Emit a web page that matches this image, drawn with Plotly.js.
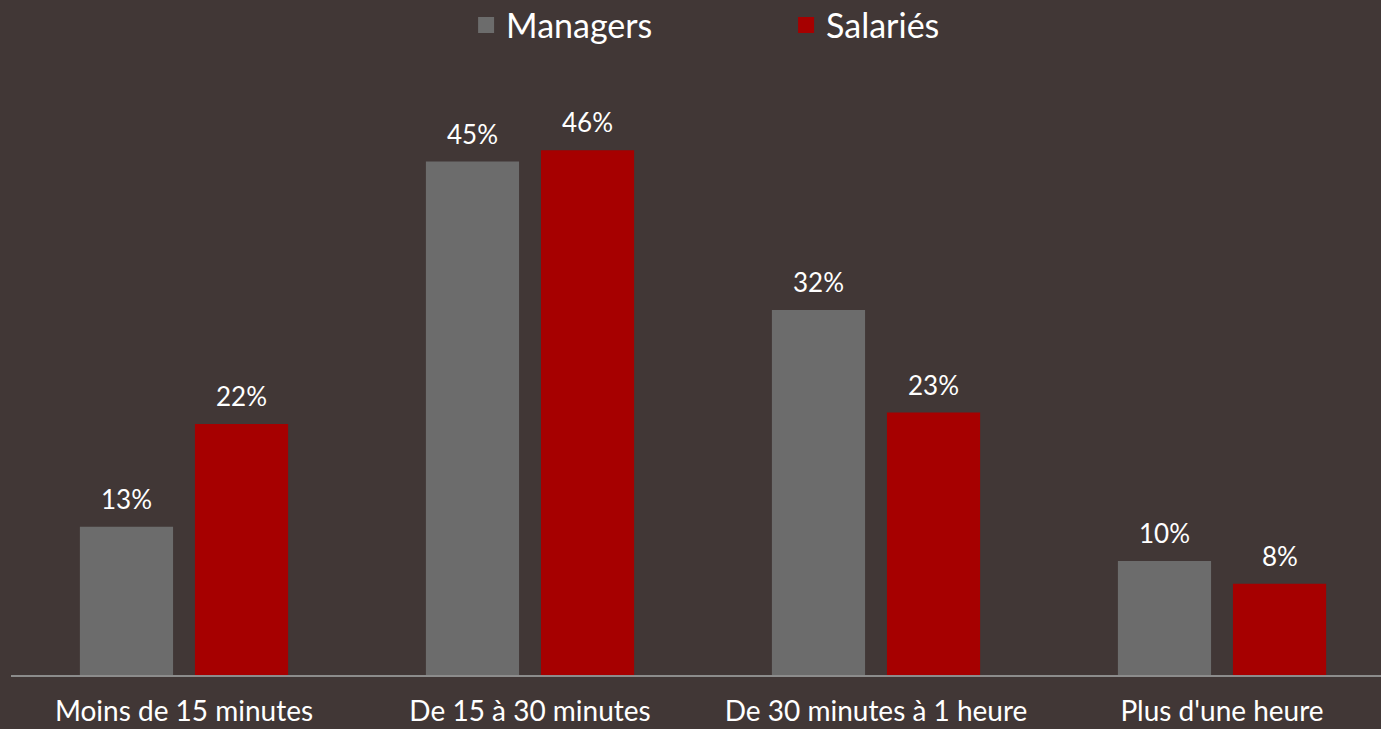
<!DOCTYPE html>
<html>
<head>
<meta charset="utf-8">
<script src="https://cdn.plot.ly/plotly-3.0.1.min.js"></script>
<style>
  html, body { margin: 0; padding: 0; background: #413736; }
  #chart { width: 1381px; height: 729px; }
</style>
</head>
<body>
<div id="chart"></div>
<script>
// Durée par catégorie (en %)
const categories = ['Moins de 15 minutes', 'De 15 à 30 minutes', 'De 30 minutes à 1 heure', "Plus d'une heure"];
const seriesNames = ['Managers', 'Salariés'];
const managers = [13, 45, 32, 10];
const salaries = [22, 46, 23, 8];

const colors = ['#6c6c6c', '#a60000'];
const xIdx = categories.map((_, i) => i);

// labels above bars, shifted left/right onto each bar of the group
const labels = [];
xIdx.forEach(i => {
    labels.push({ x: i, y: managers[i], text: managers[i] + '%', xshift: -57.5 });
    labels.push({ x: i, y: salaries[i], text: salaries[i] + '%', xshift: 57.5 });
});

const traces = [
    { type: 'bar', name: seriesNames[0], x: xIdx, y: managers, marker: { color: colors[0] }, showlegend: false },
    { type: 'bar', name: seriesNames[1], x: xIdx, y: salaries, marker: { color: colors[1] }, showlegend: false }
];
// bigger legend squares than the bar defaults
seriesNames.forEach((n, k) => {
    traces.push({
        type: 'scatter', mode: 'markers', name: n, x: [null], y: [null],
        marker: { symbol: 'square', size: 20, color: colors[k] }
    });
});

Plotly.newPlot('chart', traces, {
    width: 1381,
    height: 729,
    paper_bgcolor: '#413736',
    plot_bgcolor: '#413736',
    margin: { l: 11, r: 0, t: 60, b: 54 },
    barmode: 'group',
    bargap: 0.335,
    bargroupgap: 0.19,
    font: { family: 'Lato, "Open Sans", sans-serif', color: '#ffffff', size: 24 },
    showlegend: true,
    legend: {
        orientation: 'h', x: 0.3375, xanchor: 'left', xref: 'container',
        y: 0.965, yanchor: 'middle', yref: 'container',
        font: { size: 34, color: '#ffffff' }, entrywidth: 275, itemwidth: 30,
        bgcolor: 'rgba(0,0,0,0)'
    },
    xaxis: {
        range: [-0.5, 3.4595],
        tickvals: xIdx,
        ticktext: categories,
        showgrid: false,
        zeroline: false,
        showline: true,
        linecolor: '#8c8c8c',
        linewidth: 2,
        ticks: '',
        ticklabelstandoff: 10,
        tickfont: { size: 28, color: '#ffffff' },
        fixedrange: true
    },
    yaxis: {
        range: [0, 53.9],
        visible: false,
        fixedrange: true
    },
    annotations: labels.map(l => ({
        x: l.x, y: l.y, xref: 'x', yref: 'y', text: l.text,
        showarrow: false, xanchor: 'center', yanchor: 'bottom',
        xshift: l.xshift, yshift: 10,
        font: { size: 26, color: '#ffffff' }
    }))
}, { displayModeBar: false, staticPlot: true });
</script>
</body>
</html>
